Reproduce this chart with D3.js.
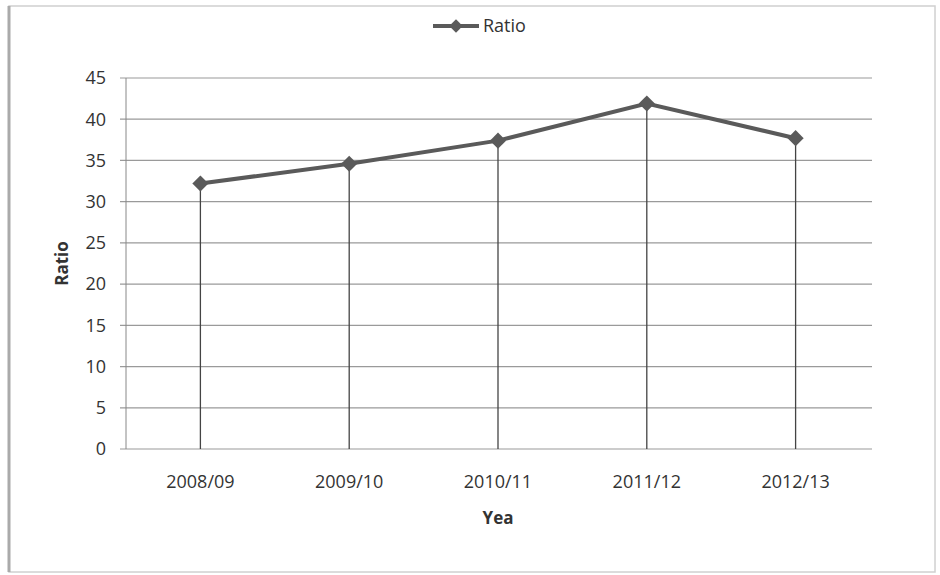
<!DOCTYPE html>
<html lang="en">
<head>
    <meta charset="UTF-8">
    <title>Ratio by year</title>
    <script src="https://cdn.jsdelivr.net/npm/d3@7"></script>
    <style>
        body { margin: 0; background: #fff; }
        text { font-family: "Open Sans", "Noto Sans", sans-serif; fill: #333; }
    </style>
</head>
<body>
<script type="application/javascript">

    let w = 940, h = 575;
    let years = ["2008/09", "2009/10", "2010/11", "2011/12", "2012/13"];
    let ratio = [32.2, 34.6, 37.4, 41.9, 37.7];
    let yTicks = [0, 5, 10, 15, 20, 25, 30, 35, 40, 45];

    let margin = { left: 126, right: 70, top: 78, bottom: 126 };

    let svg = d3.select("body")
        .append("svg")
        .attr("width", w)
        .attr("height", h);

    // chart frame
    svg.append("rect")
        .attr("x", 9).attr("y", 6)
        .attr("width", 926).attr("height", 566)
        .attr("fill", "none")
        .attr("stroke", "#d0d0d0")
        .attr("stroke-width", 1.5);
    svg.append("line")
        .attr("x1", 9).attr("x2", 9).attr("y1", 6).attr("y2", 572)
        .attr("stroke", "#aaa").attr("stroke-width", 3);

    let xScale = d3.scaleBand()
        .domain(years)
        .range([margin.left, w - margin.right]);

    let yScale = d3.scaleLinear()
        .domain([0, 45])
        .range([h - margin.bottom, margin.top]);

    // gridlines
    svg.append("g")
        .selectAll("line")
        .data(yTicks)
        .enter()
        .append("line")
        .attr("x1", margin.left - 6)
        .attr("x2", w - margin.right + 2)
        .attr("y1", d => yScale(d))
        .attr("y2", d => yScale(d))
        .attr("stroke", "#9a9a9a")
        .attr("stroke-width", 1.2);

    // y axis line
    svg.append("line")
        .attr("x1", margin.left).attr("x2", margin.left)
        .attr("y1", yScale(45)).attr("y2", yScale(0))
        .attr("stroke", "#888");

    // y tick labels
    svg.append("g")
        .selectAll("text")
        .data(yTicks)
        .enter()
        .append("text")
        .attr("x", 106)
        .attr("y", d => yScale(d))
        .attr("dy", "0.35em")
        .attr("text-anchor", "end")
        .style("font-size", "18px")
        .text(d => d);

    // x tick labels
    svg.append("g")
        .selectAll("text")
        .data(years)
        .enter()
        .append("text")
        .attr("x", d => xScale(d) + xScale.bandwidth() / 2)
        .attr("y", 488)
        .attr("text-anchor", "middle")
        .style("font-size", "18px")
        .text(d => d);

    // axis titles
    svg.append("text")
        .attr("transform", "translate(68," + yScale(22.5) + ") rotate(-90)")
        .attr("text-anchor", "middle")
        .style("font-size", "17px")
        .style("font-weight", "bold")
        .text("Ratio");

    svg.append("text")
        .attr("x", (margin.left + w - margin.right) / 2)
        .attr("y", 524)
        .attr("text-anchor", "middle")
        .style("font-size", "17px")
        .style("font-weight", "bold")
        .text("Yea");

    let cx = (d, i) => xScale(years[i]) + xScale.bandwidth() / 2;

    // drop lines
    svg.append("g")
        .selectAll("line")
        .data(ratio)
        .enter()
        .append("line")
        .attr("x1", cx).attr("x2", cx)
        .attr("y1", d => yScale(d))
        .attr("y2", yScale(0))
        .attr("stroke", "#444")
        .attr("stroke-width", 1.3);

    // series line
    let line = d3.line()
        .x(cx)
        .y(d => yScale(d));

    svg.append("path")
        .datum(ratio)
        .attr("d", line)
        .attr("fill", "none")
        .attr("stroke", "#5a5a5a")
        .attr("stroke-width", 4);

    // square markers turned 45deg, as in the original
    let marker = d3.symbol().type(d3.symbolSquare).size(130);

    svg.append("g")
        .selectAll("path")
        .data(ratio)
        .enter()
        .append("path")
        .attr("d", marker)
        .attr("transform", (d, i) => "translate(" + cx(d, i) + "," + yScale(d) + ") rotate(45)")
        .attr("fill", "#5a5a5a");

    // legend
    let legend = svg.append("g").attr("transform", "translate(433,26)");
    legend.append("line")
        .attr("x1", 0).attr("x2", 46)
        .attr("stroke", "#5a5a5a").attr("stroke-width", 4);
    legend.append("path")
        .attr("d", d3.symbol().type(d3.symbolSquare).size(90))
        .attr("transform", "translate(23,0) rotate(45)")
        .attr("fill", "#5a5a5a");
    legend.append("text")
        .attr("x", 50)
        .attr("dy", "0.35em")
        .style("font-size", "18px")
        .text("Ratio");

</script>
</body>
</html>
